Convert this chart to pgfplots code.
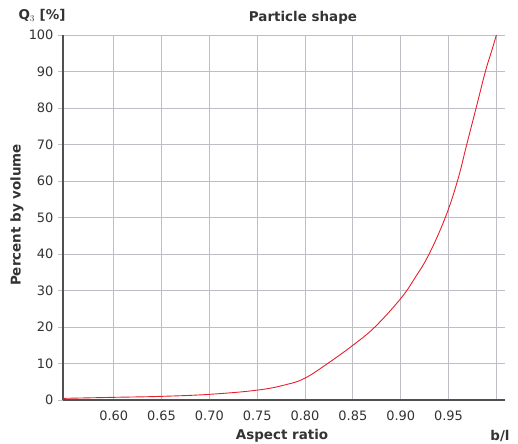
\documentclass[border=0pt]{standalone}
\usepackage{fontspec}
\setmainfont{DejaVu Sans}
\usepackage{pgfplots}
\pgfplotsset{compat=1.18}

\definecolor{gridgray}{RGB}{190,190,196}
\definecolor{axisgray}{RGB}{80,80,80}
\definecolor{curvered}{RGB}{232,30,45}

\begin{document}
\begin{tikzpicture}
\useasboundingbox (-63bp,-44bp) rectangle (455bp,400bp);

\begin{axis}[
    at={(0,0)}, anchor=south west,
    scale only axis,
    width=442bp, height=365bp,
    xmin=0.547, xmax=1.009,
    ymin=0, ymax=100,
    axis x line=bottom, axis y line=left,
    axis line style={axisgray, line width=1.3pt, -},
    xtick={0.60,0.65,0.70,0.75,0.80,0.85,0.90,0.95,1.00},
    xticklabels={0.60,0.65,0.70,0.75,0.80,0.85,0.90,0.95,{}},
    ytick={0,10,...,100},
    /pgf/number format/assume math mode=true,
    ticklabel style={font=\fontsize{13}{15}\selectfont, text=black!80},
    xtick style={draw=none},
    ytick style={gridgray, line width=0.8pt},
    tick align=outside,
    major tick length=5bp,
    xticklabel style={yshift=-2bp},
    yticklabel style={xshift=-1bp},
    grid=major,
    grid style={gridgray, line width=0.9pt},
    clip=false,
]
\addplot[curvered, line width=0.9pt, smooth, tension=0.65] coordinates {
    (0.547, 0.45)
    (0.60, 0.73)
    (0.65, 1.0)
    (0.70, 1.55)
    (0.75, 2.7)
    (0.78, 4.2)
    (0.80, 6.0)
    (0.8236, 10)
    (0.85, 15)
    (0.873, 20)
    (0.90, 27.8)
    (0.915, 33.5)
    (0.9297, 40)
    (0.9466, 50)
    (0.9593, 60)
    (0.969, 70)
    (0.9788, 80)
    (0.9885, 90)
    (0.9955, 96)
    (1.00, 100)
};
\end{axis}

\node[anchor=west, font=\fontsize{13.5}{15}\selectfont\bfseries, text=black!80]
    at (-48bp,385bp) {Q$_3$ [\%]};
\node[font=\fontsize{13.5}{15}\selectfont\bfseries, text=black!80]
    at (240bp,382bp) {Particle shape};
\node[rotate=90, font=\fontsize{13.5}{15}\selectfont\bfseries, text=black!80]
    at (-46bp,185bp) {Percent by volume};
\node[font=\fontsize{13.5}{15}\selectfont\bfseries, text=black!80]
    at (219bp,-36bp) {Aspect ratio};
\node[font=\fontsize{13.5}{15}\selectfont\bfseries, text=black!80]
    at (437bp,-36bp) {b/l};
\end{tikzpicture}
\end{document}
